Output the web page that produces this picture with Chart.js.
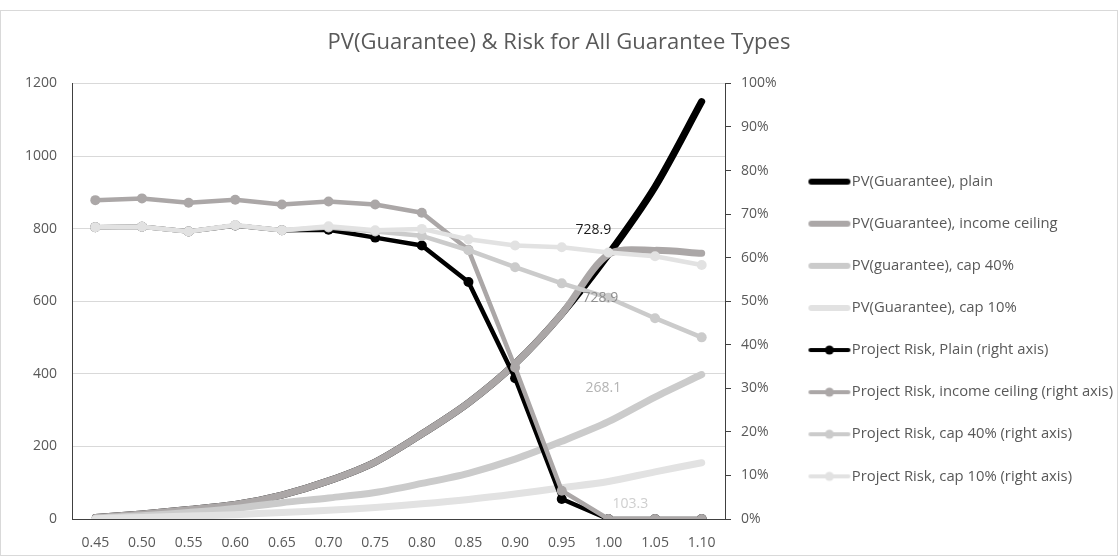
<!DOCTYPE html>
<html>
<head>
<meta charset="utf-8">
<script src="https://cdn.jsdelivr.net/npm/chart.js@4.4.1/dist/chart.umd.min.js"></script>
<style>
  html, body { margin: 0; padding: 0; background: #fff; }
  #frame { position: absolute; left: 0; top: 10px; width: 1116px; height: 544px; border: 1px solid #d9d9d9; }
  canvas { display: block; }
</style>
</head>
<body>
<div id="frame"><canvas id="chart" width="1116" height="544"></canvas></div>
<script>
const categories = ['0.45', '0.50', '0.55', '0.60', '0.65', '0.70', '0.75', '0.80', '0.85', '0.90', '0.95', '1.00', '1.05', '1.10'];

// PV(Guarantee) series, left axis
const pvPlain = [4, 14, 26, 40, 66, 105, 157, 234, 320, 428, 565, 728.9, 915, 1150];
const pvIncomeCeiling = [4, 14, 26, 40, 66, 105, 157, 234, 320, 428, 565, 728.9, 740, 732];
const pvCap40 = [2, 9, 18, 29, 45, 58, 73, 98, 126, 165, 214, 268.1, 336, 398];
const pvCap10 = [1, 4, 8, 12, 18, 24, 32, 42, 54, 69, 86, 103.3, 130, 155];

// Project risk series (%), right axis
const riskPlain = [67.0, 67.1, 66.0, 67.4, 66.3, 66.4, 64.6, 62.8, 54.4, 32.3, 4.6, 0, 0, 0];
const riskIncomeCeiling = [73.2, 73.6, 72.6, 73.3, 72.2, 72.9, 72.2, 70.3, 61.8, 34.8, 6.5, 0, 0, 0];
const riskCap40 = [67.0, 67.1, 66.0, 67.4, 66.3, 66.9, 66.0, 65.0, 61.7, 57.8, 54.1, 50.8, 46.1, 41.7];
const riskCap10 = [67.0, 67.1, 66.0, 67.5, 66.3, 67.2, 66.3, 66.6, 64.2, 62.8, 62.4, 61.2, 60.3, 58.3];

const leftTicks = [0, 1200, 200];
const rightTicks = [0, 100, 10];

const seriesNames = [
  'PV(Guarantee), plain',
  'PV(Guarantee), income ceiling',
  'PV(guarantee), cap 40%',
  'PV(Guarantee), cap 10%',
  'Project Risk, Plain (right axis)',
  'Project Risk, income ceiling (right axis)',
  'Project Risk, cap 40% (right axis)',
  'Project Risk, cap 10% (right axis)'
];
const seriesData = [pvPlain, pvIncomeCeiling, pvCap40, pvCap10, riskPlain, riskIncomeCeiling, riskCap40, riskCap10];
const seriesColors = ['#000000', '#aba7a7', '#cbcbcb', '#e2e2e2', '#000000', '#aba7a7', '#cbcbcb', '#e2e2e2'];

// value labels at 1.00 (series index, category index, colour, offset)
const valueLabels = [
  { series: 0, index: 11, color: '#1a1a1a', dx: -15, dy: -24 },
  { series: 1, index: 11, color: '#8f8f8f', dx: -8, dy: 44 },
  { series: 2, index: 11, color: '#b3b3b3', dx: -5, dy: -34 },
  { series: 3, index: 11, color: '#cfcfcf', dx: 22, dy: 23 }
];

const textColor = '#595959';
Chart.defaults.font.family = "'Open Sans', sans-serif";
Chart.defaults.color = textColor;

// legend icon: canvas wider than the legend box so the line sits close to the text
function makeIcon(color, width, marker) {
  const c = document.createElement('canvas');
  c.width = 54;
  c.height = 12;
  const g = c.getContext('2d');
  g.strokeStyle = color;
  g.lineWidth = width;
  g.lineCap = 'round';
  g.beginPath();
  g.moveTo(6 + width / 2, 6);
  g.lineTo(48 - width / 2, 6);
  g.stroke();
  if (marker) {
    g.fillStyle = color;
    g.beginPath();
    g.arc(27, 6, 4.5, 0, Math.PI * 2);
    g.fill();
  }
  return c;
}
const legendIcons = seriesColors.map((col, i) => i < 4 ? makeIcon(col, 6, false) : makeIcon(col, 4, true));

const datasets = seriesData.map((data, i) => {
  const isPv = i < 4;
  return {
    label: seriesNames[i],
    data: data,
    yAxisID: isPv ? 'y' : 'y1',
    borderColor: seriesColors[i],
    backgroundColor: seriesColors[i],
    borderWidth: isPv ? 7 : 4.5,
    borderCapStyle: 'round',
    borderJoinStyle: 'round',
    tension: isPv ? 0.3 : 0,
    pointRadius: isPv ? 0 : 5,
    pointBorderWidth: 0,
    pointBackgroundColor: seriesColors[i],
    fill: false,
    order: seriesData.length - i
  };
});

const valueLabelPlugin = {
  id: 'valueLabels',
  afterDatasetsDraw(chart) {
    const ctx = chart.ctx;
    ctx.save();
    ctx.font = "14px 'Open Sans', sans-serif";
    ctx.textAlign = 'center';
    ctx.textBaseline = 'middle';
    valueLabels.forEach(l => {
      const pt = chart.getDatasetMeta(l.series).data[l.index];
      ctx.fillStyle = l.color;
      ctx.fillText(seriesData[l.series][l.index].toFixed(1), pt.x + l.dx, pt.y + l.dy);
    });
    ctx.restore();
  }
};

new Chart(document.getElementById('chart'), {
  type: 'line',
  data: { labels: categories, datasets: datasets },
  plugins: [valueLabelPlugin],
  options: {
    responsive: false,
    animation: false,
    devicePixelRatio: 1,
    layout: { padding: { left: -6, right: -6, top: 0, bottom: 0 } },
    plugins: {
      tooltip: { enabled: false },
      title: {
        display: true,
        text: 'PV(Guarantee) & Risk for All Guarantee Types',
        color: textColor,
        font: { size: 22, weight: 'normal' },
        padding: { top: 19, bottom: 27 }
      },
      legend: {
        position: 'right',
        align: 'center',
        maxWidth: 380,
        title: { display: true, text: '', font: { size: 10 }, padding: { top: 0, bottom: 80 } },
        labels: {
          usePointStyle: true,
          pointStyleWidth: 30,
          padding: 27.3,
          color: textColor,
          font: { size: 14.8 },
          sort: (a, b) => a.datasetIndex - b.datasetIndex,
          generateLabels(chart) {
            const items = Chart.defaults.plugins.legend.labels.generateLabels(chart);
            items.forEach(it => {
              it.pointStyle = legendIcons[it.datasetIndex];
              it.rotation = 0;
            });
            return items;
          }
        }
      }
    },
    scales: {
      x: {
        type: 'category',
        offset: true,
        grid: { display: true, drawOnChartArea: false, drawTicks: false },
        border: { display: true, color: '#404040', width: 1 },
        ticks: { color: textColor, font: { size: 14 }, padding: 16, maxRotation: 0, autoSkip: false },
        afterFit(s) { s.height = 36; }
      },
      y: {
        position: 'left',
        min: leftTicks[0],
        max: leftTicks[1],
        ticks: { stepSize: leftTicks[2], color: textColor, font: { size: 14 }, padding: 15, callback: v => String(v) },
        grid: { color: '#d9d9d9', lineWidth: 1, drawTicks: false },
        border: { display: true, color: '#404040', width: 1 },
        afterFit(s) { s.width = 77; }
      },
      y1: {
        position: 'right',
        min: rightTicks[0],
        max: rightTicks[1],
        ticks: { stepSize: rightTicks[2], color: textColor, font: { size: 14 }, padding: 10, callback: v => v + '%' },
        grid: { drawOnChartArea: false, drawTicks: true, tickLength: 6, color: '#404040' },
        border: { display: true, color: '#404040', width: 1 },
        afterFit(s) { s.width = s.chart.width + 6 - s.chart.legend.width - 724; }
      }
    }
  }
});
</script>
</body>
</html>
